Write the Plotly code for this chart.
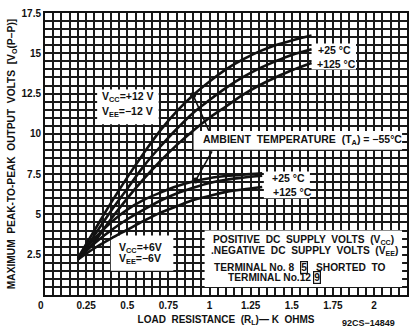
import plotly.graph_objects as go

# ---------------- data ----------------
x_ticks = [0, 0.25, 0.5, 0.75, 1, 1.25, 1.5, 1.75, 2]
x_tick_labels = ["0\u00a0\u00a0\u00a0", "0.25", "0.5", "0.75", "1", "1.25", "1.5", "1.75", "2"]
y_ticks = [2.5, 5, 7.5, 10, 12.5, 15, 17.5]
y_tick_labels = ["2.5", "5", "7.5", "10", "12.5", "15", "17.5"]

# load resistance (k ohms) for the +/-12 V family
rl_12v = [0.2, 0.3, 0.4, 0.5, 0.6, 0.7, 0.8, 0.9, 1.0, 1.1, 1.2, 1.3, 1.4, 1.5, 1.62]
vo_12v_m55 = [2.3, 4.0, 5.7, 7.3, 8.8, 10.2, 11.4, 12.4, 13.25, 14.0, 14.6, 15.1, 15.5, 15.8, 16.1]
vo_12v_p25 = [2.2, 3.7, 5.2, 6.6, 8.0, 9.2, 10.3, 11.3, 12.1, 12.85, 13.5, 14.05, 14.5, 14.9, 15.25]
vo_12v_p125 = [2.2, 3.3, 4.7, 6.0, 7.2, 8.3, 9.3, 10.2, 11.0, 11.7, 12.4, 13.0, 13.5, 13.95, 14.4]

# load resistance (k ohms) for the +/-6 V family
rl_6v = [0.2, 0.3, 0.4, 0.5, 0.6, 0.7, 0.8, 0.9, 1.0, 1.1, 1.2, 1.32]
vo_6v_m55 = [2.3, 3.5, 4.5, 5.3, 5.9, 6.35, 6.75, 7.05, 7.25, 7.38, 7.47, 7.55]
vo_6v_p25 = [2.25, 3.2, 4.0, 4.7, 5.3, 5.85, 6.3, 6.65, 6.95, 7.15, 7.28, 7.4]
vo_6v_p125 = [2.2, 2.9, 3.5, 4.05, 4.6, 5.1, 5.5, 5.9, 6.15, 6.4, 6.55, 6.7]

# pointer dots marking the -55 C curves
dot_x = [0.9, 0.915]
dot_y = [12.4, 7.1]

# ---------------- figure ----------------
FONT = "Liberation Sans"
INK = "#111111"

fig = go.Figure()
curve_style = dict(mode="lines", line=dict(color=INK, width=2.6, shape="spline", smoothing=1.0),
                   hoverinfo="skip", showlegend=False)
for xs, ys in [(rl_12v, vo_12v_m55), (rl_12v, vo_12v_p25), (rl_12v, vo_12v_p125),
               (rl_6v, vo_6v_m55), (rl_6v, vo_6v_p25), (rl_6v, vo_6v_p125)]:
    fig.add_trace(go.Scatter(x=xs, y=ys, **curve_style))

fig.add_trace(go.Scatter(x=dot_x, y=dot_y, mode="markers",
                         marker=dict(color=INK, size=6), hoverinfo="skip", showlegend=False))

# white label boxes (cover the grid, sit under the curves)
boxes = [
    (0.317, 0.691, 10.6, 12.75),   # Vcc=+12 V box
    (0.903, 2.17, 9.02, 10.18),    # ambient temperature box
    (1.62, 1.89, 14.0, 15.6),      # +25/+125 (12 V)
    (1.33, 1.61, 6.0, 7.67),       # +25/+125 (6 V)
    (0.40, 0.78, 1.5, 3.7),        # Vcc=+6 V box
    (0.97, 2.17, 0.5, 4.0),        # notes box
]
for x0, x1, y0, y1 in boxes:
    fig.add_shape(type="rect", x0=x0, x1=x1, y0=y0, y1=y1, xref="x", yref="y",
                  fillcolor="white", line=dict(width=0), layer="between")

tf = dict(family=FONT, size=10, color=INK, weight="bold")
LS = 10.5
NS = 10.2


def label(x, y, text, xanchor="left", size=LS, **kw):
    fig.add_annotation(x=x, y=y, xref="x", yref="y", text=text, showarrow=False,
                       xanchor=xanchor, yanchor="middle",
                       font=dict(family=FONT, size=size, color=INK, weight="bold"), **kw)


label(0.504, 12.27, "V<sub>CC</sub>=+12 V", xanchor="center")
label(0.504, 11.35, "V<sub>EE</sub>=\u221212 V", xanchor="center")
label(0.951, 9.63, "AMBIENT  TEMPERATURE  (T<sub>A</sub>) = \u221255\u00b0C")
label(1.646, 15.21, "+25 \u00b0C")
label(1.64, 14.36, "+125 \u00b0C")
label(1.368, 7.24, "+25 \u00b0C")
label(1.374, 6.38, "+125 \u00b0C")
label(0.58, 2.94, "V<sub>CC</sub>=+6V", xanchor="center")
label(0.58, 2.21, "V<sub>EE</sub>=\u22126V", xanchor="center")
label(1.006, 3.40, "POSITIVE  DC  SUPPLY  VOLTS  (V<sub>CC</sub>)", size=NS)
label(0.994, 2.68, ".NEGATIVE  DC  SUPPLY  VOLTS  (V<sub>EE</sub>)", size=NS)
label(1.012, 1.72, "TERMINAL No. 8", size=NS)
label(1.575, 1.72, "5", xanchor="center", size=NS, bordercolor=INK, borderwidth=1.2, borderpad=0)
label(1.632, 1.72, "SHORTED  TO", size=NS)
label(1.102, 1.08, "TERMINAL No.12", size=NS)
label(1.655, 1.08, "9", xanchor="center", size=NS, bordercolor=INK, borderwidth=1.2, borderpad=0)

# pointer lines from the ambient-temperature label to the -55 C curves
for (xt, yt), (xh, yh) in [((1.0, 10.1), (dot_x[0], dot_y[0])), ((1.02, 9.0), (dot_x[1], dot_y[1]))]:
    fig.add_annotation(x=xh, y=yh, ax=xt, ay=yt, xref="x", yref="y", axref="x", ayref="y",
                       text="", showarrow=True, arrowhead=0, arrowwidth=1.6, arrowcolor=INK)

fig.add_annotation(x=0.895, y=-0.098, xref="paper", yref="paper", text="92CS\u221214849",
                   showarrow=False, xanchor="center", yanchor="middle",
                   font=dict(family=FONT, size=9, color=INK, weight="bold"))

grid = dict(showgrid=True, gridcolor="#1a1a1a", gridwidth=1.5)
fig.update_xaxes(range=[0, 2.2], tickmode="array", tickvals=x_ticks, ticktext=x_tick_labels,
                 tickfont=tf, ticks="", **grid, zeroline=False,
                 minor=dict(dtick=0.05, tick0=0, showgrid=True, gridcolor="#1a1a1a", gridwidth=1.5),
                 showline=True, linecolor=INK, linewidth=2, mirror=True,
                 title=dict(text="LOAD  RESISTANCE  (R<sub>L</sub>)\u2014 K  OHMS",
                            font=dict(family=FONT, size=10, color=INK, weight="bold"), standoff=6))
fig.update_yaxes(range=[0, 17.5], tickmode="array", tickvals=y_ticks, ticktext=y_tick_labels,
                 tickfont=tf, ticks="", **grid, zeroline=False,
                 minor=dict(dtick=0.5, tick0=0, showgrid=True, gridcolor="#1a1a1a", gridwidth=1.5),
                 showline=True, linecolor=INK, linewidth=2, mirror=True,
                 title=dict(text="MAXIMUM  PEAK-TO-PEAK  OUTPUT  VOLTS  [V<sub>O</sub>(P\u2212P)]",
                            font=dict(family=FONT, size=10.2, color=INK, weight="bold"), standoff=4))

fig.update_layout(width=416, height=335, margin=dict(l=45, r=7, t=9, b=40),
                  paper_bgcolor="white", plot_bgcolor="white", showlegend=False)

fig.write_html("out.html", config={"displayModeBar": False},
               post_script="document.body.style.margin='0';")
